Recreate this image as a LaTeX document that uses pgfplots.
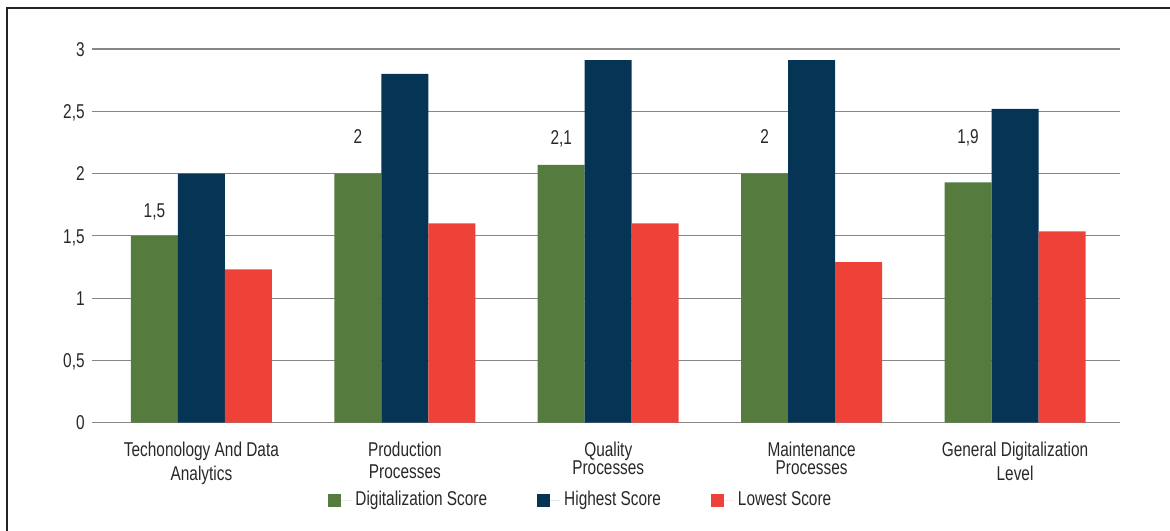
\documentclass[border=0pt]{standalone}
\usepackage{fontspec}
\setmainfont{Liberation Sans}[FakeStretch=0.77]
\usepackage{pgfplots}
\pgfplotsset{compat=1.18}
\usepackage{pgfplotstable}
\definecolor{cgreen}{RGB}{86,123,62}
\definecolor{cnavy}{RGB}{6,52,84}
\definecolor{cred}{RGB}{238,66,56}
\definecolor{ctext}{RGB}{40,40,40}
\definecolor{cgrid}{RGB}{135,135,135}
\definecolor{cframe}{RGB}{34,34,34}

\pgfplotstableread{
x y lab off
0 1.50 1,5 9.05
1 2.00 2 14.85
2 2.07 2,1 10.05
3 2.00 2 14.85
4 1.93 1,9 19.2
}\digit
\pgfplotstableread{
x y
0 2.00
1 2.80
2 2.91
3 2.91
4 2.52
}\highest
\pgfplotstableread{
x y
0 1.23
1 1.60
2 1.60
3 1.29
4 1.535
}\lowest

\begin{document}
\begin{tikzpicture}[x=1pt,y=1pt]
\useasboundingbox (0,0) rectangle (585,265);
\draw[line width=1pt, cframe] (3.65,-2) -- (3.65,261) -- (590,261);
\begin{axis}[
  at={(46pt,53.65pt)}, anchor=south west,
  scale only axis, width=514pt, height=186.85pt,
  xmin=-0.538, xmax=4.516, ymin=0, ymax=3,
  ybar=0pt, bar width=23.5pt,
  axis line style={draw=none},
  major tick length=0pt,
  ymajorgrids, grid style={cgrid, line width=0.6pt},
  ytick={0,0.5,1,1.5,2,2.5,3},
  yticklabels={0,{0,5},1,{1,5},2,{2,5},3},
  xtick={0,1,2,3,4},
  xticklabels={{Techonology And Data\\Analytics},{Production\\[-1pt]Processes},{Quality\\[-3pt]Processes},{Maintenance\\[-3pt]Processes},{General Digitalization\\Level}},
  tick label style={font=\fontsize{10}{12}\selectfont, text=ctext},
  yticklabel style={anchor=base east, inner sep=0pt, xshift=-3.5pt, yshift=-3.6pt},
  xticklabel style={anchor=north, align=center, inner sep=0pt, yshift=-9.5pt},
  legend columns=3,
  legend image code/.code={\fill[#1,draw=none] (0pt,-3.25pt) rectangle (6.5pt,3.25pt);
    \path (0pt,0pt) -- (11.5pt,0pt);},
  legend style={at={(axis description cs:0,0)}, anchor=west, xshift=118pt, yshift=-38.65pt,
    draw=none, fill=none, inner sep=0pt, font=\fontsize{10}{12}\selectfont, text=ctext,
    /tikz/every even column/.append style={column sep=23pt}},
  clip=false,
]
\addplot[fill=cgreen, draw=none,
  nodes near coords, point meta=explicit symbolic,
  visualization depends on={\thisrow{off} \as \myoff},
  every node near coord/.append style={anchor=base, inner sep=0pt, yshift=\myoff pt,
    font=\fontsize{10}{12}\selectfont, text=ctext}]
  table[x=x, y=y, meta=lab] {\digit};
\addplot[fill=cnavy, draw=none] table[x=x, y=y] {\highest};
\addplot[fill=cred, draw=none] table[x=x, y=y] {\lowest};
\legend{Digitalization Score, Highest Score, Lowest Score}
\end{axis}
\end{tikzpicture}
\end{document}
